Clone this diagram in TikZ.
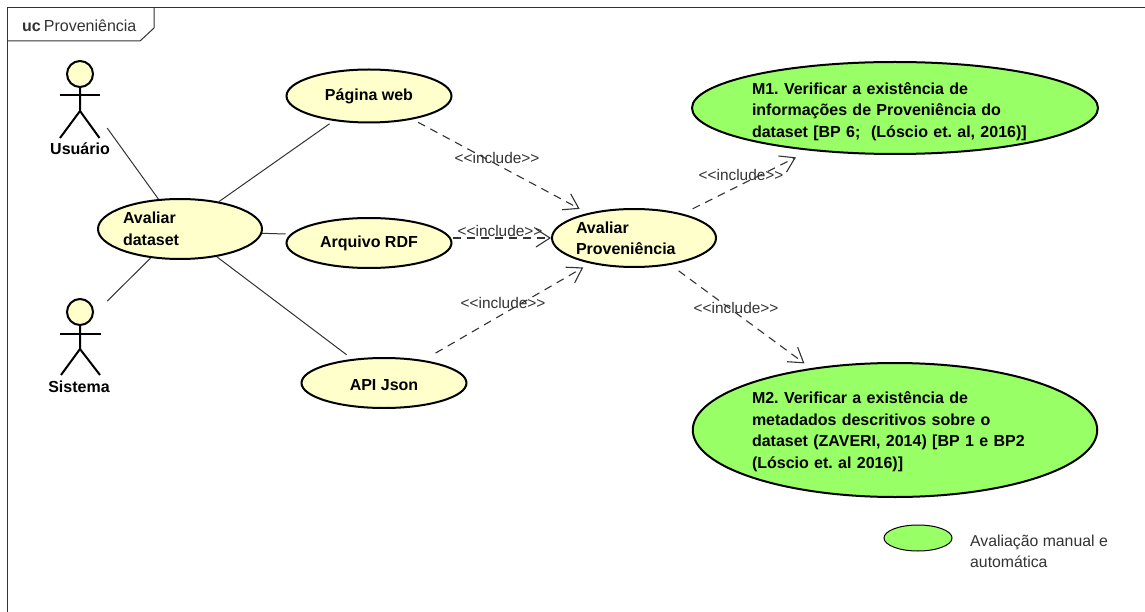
\documentclass[tikz,border=0pt]{standalone}
\usepackage{fontspec}
\setmainfont{Liberation Sans}
\usetikzlibrary{arrows.meta,shapes.geometric}
\definecolor{ucyellow}{HTML}{FFFFCC}
\definecolor{ucgreen}{HTML}{99FF66}
\definecolor{framegray}{HTML}{333333}
\frenchspacing
\tikzset{
  usecase/.style={ellipse,draw=black,line width=2pt,fill=ucyellow,inner sep=0pt,align=left,
    font=\fontsize{16}{21.5}\selectfont\bfseries,text=black},
  metric/.style={usecase,fill=ucgreen},
  actorpart/.style={draw=black,line width=2pt},
  actorhead/.style={circle,draw=black,line width=2pt,fill=ucyellow,minimum size=26pt,inner sep=0pt},
  actorbox/.style={rectangle,inner sep=0pt,draw=none},
  actorname/.style={font=\fontsize{16}{18}\selectfont\bfseries,text=black,inner sep=0pt},
  assoc/.style={draw=framegray,line width=1pt},
  incl/.style={draw=framegray,line width=1.1pt,dash pattern=on 8pt off 6pt,
    -{Straight Barb[length=14pt,width=18pt,line width=1.1pt]}},
  incllabel/.style={font=\fontsize{15.4}{17}\selectfont,text=framegray,inner sep=0pt},
  framestyle/.style={draw=framegray,line width=1pt},
}
\begin{document}
\begin{tikzpicture}[x=1pt,y=-1pt]
\useasboundingbox[fill=white] (0,0) rectangle (1145,612);
% frame
\draw[framestyle] (1145,8) -- (7,8) -- (7,612);
\draw[framestyle] (7,41) -- (140,41) -- (154,28) -- (154,8);
\node[anchor=west,inner sep=0pt,font=\fontsize{16}{18}\selectfont,text=framegray] (frametitle) at (22,26) {\textbf{uc}\hspace{3pt}Proveniência};
% use cases
\node[usecase,minimum width=164pt,minimum height=60pt,text width=114pt] (dataset) at (180,229) {Avaliar\\dataset};
\node[usecase,minimum width=165pt,minimum height=53pt,text height=13.4pt,text depth=3.4pt] (pagina) at (369,96) {Página web};
\node[usecase,minimum width=165pt,minimum height=50pt] (rdf) at (369,243) {Arquivo RDF};
\node[usecase,minimum width=165pt,minimum height=50pt,text height=15pt,text depth=0pt] (api) at (384,383) {API Json};
\node[usecase,minimum width=164pt,minimum height=58pt,text width=116pt,text height=13.5pt,text depth=23pt] (prov) at (634,238) {Avaliar\\Proveniência};
\node[metric,minimum width=406pt,minimum height=92pt,text width=286pt,text height=15.5pt,text depth=42.5pt] (m1) at (895,108)
  {M1. Verificar a existência de\\informações de Proveniência do\\dataset [BP 6;\ \ (Lóscio et. al, 2016)]};
\node[metric,minimum width=404pt,minimum height=134pt,text width=286pt,text height=13.5pt,text depth=66pt] (m2) at (895,430)
  {M2. Verificar a existência de\\metadados descritivos sobre o\\dataset (ZAVERI, 2014) [BP 1 e BP2\\(Lóscio et. al 2016)]};
% actors
\node[actorbox,minimum width=56pt,minimum height=78pt] (usuario) at (79,89) {};
\node[actorhead] (uhead) at (80,74) {};
\draw[actorpart] (uhead.south) -- (80,111) -- (60,138);
\draw[actorpart] (80,111) -- (99.5,138);
\draw[actorpart] (59.5,95) -- (99.5,95);
\node[actorname] (uname) at (80,149) {Usuário};
\node[actorbox,minimum width=56pt,minimum height=56pt] (sistema) at (79,329) {};
\node[actorhead] (shead) at (80,312) {};
\draw[actorpart] (shead.south) -- (80,349) -- (61,375);
\draw[actorpart] (80,349) -- (100,375);
\draw[actorpart] (60,334) -- (100.5,334);
\node[actorname] (sname) at (79,387) {Sistema};
% associations
\draw[assoc] (usuario) -- (dataset);
\draw[assoc] (sistema) -- (dataset);
\draw[assoc,shorten >=5pt] (dataset) -- (pagina);
\draw[assoc] (dataset.-3) -- ([yshift=9pt]rdf.west);
\draw[assoc,shorten >=7pt] (dataset) -- (api);
% includes
\draw[incl,shorten <=6pt,shorten >=9pt] (pagina) -- (prov);
\draw[incl] (rdf.east |- prov.west) -- (prov.west);
\draw[incl,shorten <=14pt,shorten >=8pt] (api) -- (prov);
\draw[incl,shorten <=11pt,shorten >=15pt] (prov) -- (m1);
\draw[incl,shorten <=10pt,shorten >=8pt] (prov) -- (m2);
\node[incllabel] (l1) at (497,158) {<{}<include>{}>};
\node[incllabel] (l2) at (500,231) {<{}<include>{}>};
\node[incllabel] (l3) at (503,303) {<{}<include>{}>};
\node[incllabel] (l4) at (741,175) {<{}<include>{}>};
\node[incllabel] (l5) at (736,308) {<{}<include>{}>};
% legend
\node[ellipse,draw=black,line width=1pt,fill=ucgreen,minimum width=68pt,minimum height=26pt,inner sep=0pt] (legend) at (918,538) {};
\node[anchor=west,inner sep=0pt,align=left,font=\fontsize{15.8}{21}\selectfont,text=framegray] (legendtext) at (970,551.5) {Avaliação manual e\\automática};
\end{tikzpicture}
\end{document}
